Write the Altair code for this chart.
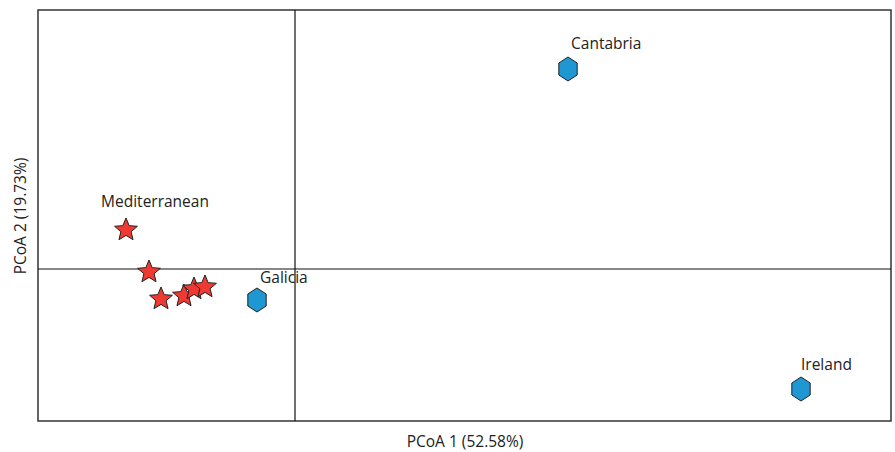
import math
import urllib.parse
import altair as alt
import pandas as pd

# Site points (PCoA coordinates, arbitrary units)
site_names = ["Cantabria", "Galicia", "Ireland"]
site_x = [2.73, -0.38, 5.06]
site_y = [2.00, -0.31, -1.20]

# Mediterranean samples
med_x = [-1.69, -1.46, -1.34, -1.11, -1.01, -0.90]
med_y = [0.40, -0.02, -0.29, -0.26, -0.19, -0.17]

x_domain = [-2.57, 5.96]
y_domain = [-1.52, 2.59]

sites = pd.DataFrame({"name": site_names, "x": site_x, "y": site_y})
med = pd.DataFrame({"x": med_x, "y": med_y, "name": ["Mediterranean"] * len(med_x)})
origin = pd.DataFrame({"x": [0.0], "y": [0.0]})

FONT = "Open Sans"
FS = 15.5


def svg_url(points, fill):
    pts = " ".join(f"{px:.2f},{py:.2f}" for px, py in points)
    svg = (f'<svg xmlns="http://www.w3.org/2000/svg" width="28" height="28" viewBox="-14 -14 28 28">'
           f'<polygon points="{pts}" fill="{fill}" stroke="#222" stroke-width="1" '
           f'stroke-linejoin="miter"/></svg>')
    return "data:image/svg+xml;charset=utf-8," + urllib.parse.quote(svg)


hex_pts = [(10.6 * math.cos(math.radians(-90 + 60 * k)), 12 * math.sin(math.radians(-90 + 60 * k)))
           for k in range(6)]
star_pts = []
for k in range(10):
    r = 12 if k % 2 == 0 else 5.4
    a = math.radians(-90 + 36 * k)
    star_pts.append((r * math.cos(a), r * math.sin(a) + 1))
HEX_URL = svg_url(hex_pts, "#1F97D3")
STAR_URL = svg_url(star_pts, "#EE3A33")

xs = alt.Scale(domain=x_domain, nice=False, zero=False)
ys = alt.Scale(domain=y_domain, nice=False, zero=False)

xenc = alt.X("x:Q", scale=xs, title="PCoA 1 (52.58%)",
             axis=alt.Axis(labels=False, ticks=False, domain=False, grid=False,
                           titlePadding=13, titleFont=FONT, titleFontSize=FS,
                           titleFontWeight="normal", titleColor="#222"))
yenc = alt.Y("y:Q", scale=ys, title="PCoA 2 (19.73%)",
             axis=alt.Axis(labels=False, ticks=False, domain=False, grid=False,
                           titlePadding=10, titleFont=FONT, titleFontSize=FS,
                           titleFontWeight="normal", titleColor="#222"))

vline = alt.Chart(origin).mark_rule(color="#111", strokeWidth=1.2).encode(x=xenc)
hline = alt.Chart(origin).mark_rule(color="#111", strokeWidth=1.2).encode(y=yenc)

stars = alt.Chart(med).mark_image(width=28, height=28).encode(
    x=xenc, y=yenc, url=alt.value(STAR_URL))
hexes = alt.Chart(sites).mark_image(width=28, height=28).encode(
    x=xenc, y=yenc, url=alt.value(HEX_URL))


def label(df, dx, dy, align):
    return alt.Chart(df).mark_text(
        font=FONT, fontSize=FS, color="#222", align=align, baseline="middle",
        dx=dx, dy=dy).encode(x=xenc, y=yenc, text="name:N")


labels = [
    label(med.iloc[[0]], 29, -27, "center"),
    label(sites.iloc[[0]], 3, -25, "left"),
    label(sites.iloc[[1]], 3, -22, "left"),
    label(sites.iloc[[2]], 0, -24, "left"),
]

chart = alt.layer(vline, hline, stars, hexes, *labels).properties(
    width=853, height=411,
    autosize=alt.AutoSizeParams(type="none"),
    padding={"left": 38, "top": 10, "right": 4, "bottom": 31},
    background="white",
).configure_view(stroke="#333", strokeWidth=1.5)

chart.save("out.html", embed_options={"renderer": "svg", "actions": False})
